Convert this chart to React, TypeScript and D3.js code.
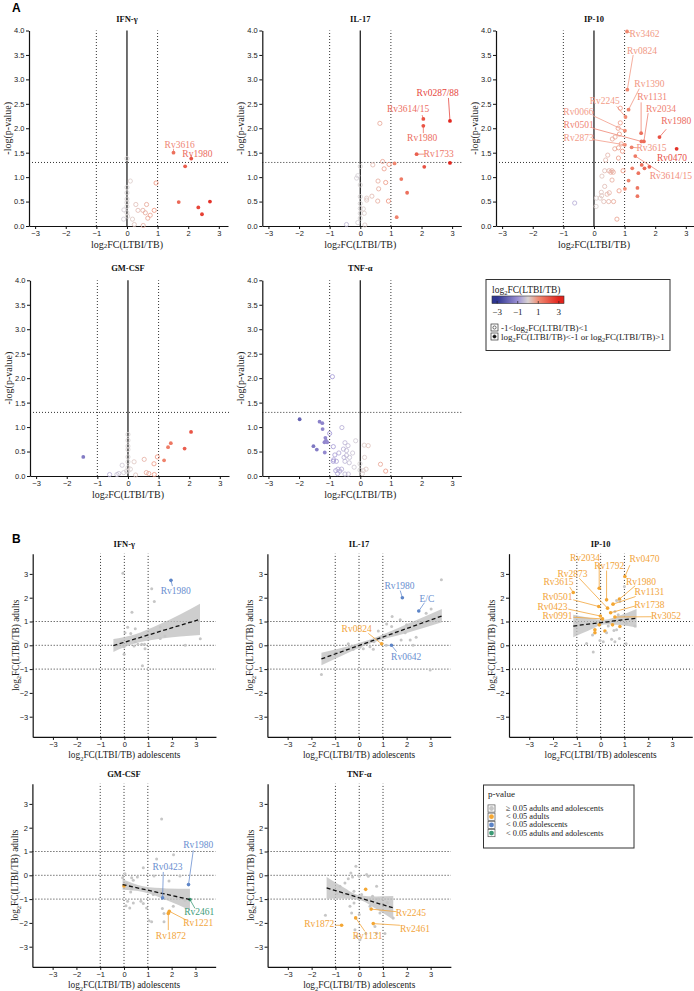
import React, { useEffect, useRef } from 'react';
import * as d3 from 'd3';

// ---------- A: volcano data, [log2FC(LTBI/TB), -log(p-value)] ----------
const ifnVolcano: [number, number][] = [
  [1.52, 1.50], [2.10, 1.38], [1.90, 1.22], [1.69, 0.49], [2.71, 0.50], [2.33, 0.38], [2.45, 0.24],
  [0.11, 0.92], [0, 0.79], [0, 0.68], [0, 0.55], [0, 0.48], [-0.1, 0.33], [0.29, 0.44], [0.36, 0.32],
  [0.52, 0.32], [0.6, 0.27], [0.64, 0.44], [0.89, 0.32], [0.76, 0.22], [0.68, 0.16], [0.95, 0.88],
  [-0.11, 0.14], [0.18, 0.14], [0.24, 0.03], [0.53, 0.01], [0, 0.27], [0, 1.38], [0, 0.4], [0.02, 0.2],
];
const il17Volcano: [number, number][] = [
  [2.93, 2.15], [2.06, 2.19], [2.06, 2.05], [1.84, 1.47], [2.93, 1.29], [1.12, 1.28], [2.09, 1.21],
  [1.34, 0.96], [1.53, 0.68], [1.19, 0.18],
  [0.64, 2.10], [0.73, 1.32], [0.41, 1.25], [0.78, 1.17], [0.94, 1.26], [0.58, 0.92], [0.83, 0.89],
  [0.60, 0.76], [0.38, 0.61], [0.21, 0.57], [0.21, 0.53], [0.57, 0.51], [0.92, 0.51], [0.10, 0.35],
  [0.13, 0.26], [-0.12, 0.98], [-0.08, 1.03], [0, 0.84], [0, 0.60], [0, 0.46], [0, 0.36], [0, 0.26],
  [0, 0.16], [-0.08, 0.07], [-0.45, 0.03], [0.15, 0.02], [0, 1.22],
];
const ip10Volcano: [number, number][] = [
  [1.08, 3.98], [1.09, 2.79], [1.13, 2.38], [1.03, 2.23], [1.01, 1.95], [1.54, 1.90], [1.63, 1.73],
  [1.55, 1.73], [2.14, 1.82], [1.01, 1.66], [1.23, 1.61], [2.70, 1.58], [1.35, 1.43], [1.81, 1.21],
  [1.56, 1.25], [1.65, 1.18], [1.25, 1.18], [1.45, 1.08], [1.13, 0.93], [1.42, 0.78], [1.01, 0.76],
  [1.42, 0.61],
  [0.86, 2.41], [0.86, 2.11], [0.79, 2.0], [0.83, 1.88], [0.69, 1.82], [0.6, 1.78], [0.89, 1.68],
  [0.68, 1.58], [0.8, 1.6], [0.38, 1.35], [0.45, 1.45], [0.93, 1.53], [0.8, 1.39], [0.35, 1.13],
  [0.49, 1.13], [0.59, 1.13], [0.55, 1.10], [0.63, 1.10], [0.95, 1.13], [0.26, 1.02], [0.59, 0.94],
  [0.35, 0.81], [0.50, 0.68], [0.43, 0.65], [0.24, 0.69], [0.25, 0.62], [0.2, 0.57], [0.08, 0.57],
  [0.32, 0.50], [0.48, 0.50], [0.64, 0.50], [0.82, 0.72], [0.07, 0.40], [-0.63, 0.47], [0.75, 0.14],
];
const gmcsfVolcano: [number, number][] = [
  [-1.46, 0.39], [2.06, 0.90], [1.40, 0.67], [1.31, 0.59], [1.85, 0.56], [1.18, 0.32],
  [0, 0.85], [0, 0.73], [0, 0.61], [0, 0.54], [0, 0.39], [0, 0.29], [0, 0.17], [0, 0.10], [0.2, 0.29],
  [-0.19, 0.22], [0.53, 0.34], [0.96, 0.39], [0.85, 0.25], [0.6, 0.07], [0.68, 0.05], [-0.6, 0.03],
  [-0.36, 0.03], [-0.14, 0.07], [0.08, 0.14], [0.25, 0.02], [0.86, 0.03], [-0.05, 0.1], [-0.3, 0.05],
];
const tnfVolcano: [number, number][] = [
  [-1.98, 1.16], [-1.33, 1.11], [-1.24, 1.08], [-1.23, 0.96], [-1.14, 0.78], [-1.12, 0.72],
  [-1.17, 0.69], [-1.08, 0.69], [-1.53, 0.61], [-1.42, 0.54], [-1.16, 0.48],
  [-0.91, 2.03], [-0.60, 0.99], [-1.0, 0.87], [-0.15, 0.72], [0.13, 0.63], [0.26, 0.62], [-0.5, 0.68],
  [-0.4, 0.62], [-0.88, 0.6], [-0.55, 0.55], [-0.45, 0.52], [-0.25, 0.47], [-0.7, 0.47], [-0.83, 0.43],
  [-0.45, 0.42], [-0.53, 0.38], [-0.35, 0.38], [0.14, 0.38], [-0.87, 0.33], [-0.78, 0.30], [-0.88, 0.30],
  [-0.5, 0.30], [-0.36, 0.27], [-0.01, 0.25], [0.66, 0.24], [-0.2, 0.18], [-0.73, 0.14], [-0.61, 0.14],
  [-0.8, 0.11], [-0.67, 0.10], [-0.01, 0.12], [0.1, 0.11], [0.19, 0.14], [-0.5, 0.04], [-0.39, 0.04],
  [0.07, 0.05], [0.83, 0.10], [-0.74, 0.05],
];

// labels: [name, point x, point y, text x, text y, leader start x, leader start y]
type Lab = [string, number, number, number, number, number | null, number | null];
const ifnVolcanoLabels: Lab[] = [
  ['Rv3616', 1.52, 1.50, 1.72, 1.66, 1.52, 1.58],
  ['Rv1980', 2.10, 1.38, 2.30, 1.48, 2.10, 1.45],
];
const il17VolcanoLabels: Lab[] = [
  ['Rv0287/88', 2.93, 2.15, 2.53, 2.72, 2.88, 2.62],
  ['Rv3614/15', 2.06, 2.19, 1.56, 2.39, 2.02, 2.27],
  ['Rv1980', 2.06, 2.05, 2.02, 1.80, 2.06, 1.90],
  ['Rv1733', 1.84, 1.47, 2.56, 1.47, 2.1, 1.47],
];
const ip10VolcanoLabels: Lab[] = [
  ['Rv3462', 1.08, 3.98, 1.65, 3.92, 1.20, 3.95],
  ['Rv0824', 1.09, 2.79, 1.57, 3.59, 1.28, 3.50],
  ['Rv1390', 1.13, 2.38, 1.81, 2.90, 1.48, 2.81],
  ['Rv1131', 1.54, 1.90, 1.90, 2.63, 1.54, 2.53],
  ['Rv2034', 1.63, 1.73, 2.19, 2.40, 1.77, 2.31],
  ['Rv1980', 2.14, 1.82, 2.69, 2.14, 2.36, 1.98],
  ['Rv2245', 1.03, 2.23, 0.35, 2.56, 0.74, 2.45],
  ['Rv0066', 1.01, 1.95, -0.51, 2.33, -0.04, 2.26],
  ['Rv0501', 1.55, 1.73, -0.50, 2.06, -0.04, 2.00],
  ['Rv2873', 1.01, 1.66, -0.50, 1.80, -0.04, 1.77],
  ['Rv3615', 1.23, 1.61, 1.88, 1.60, 1.44, 1.60],
  ['Rv0470', 2.70, 1.58, 2.55, 1.39, null, null],
  ['Rv3614/15', 1.35, 1.43, 2.51, 1.03, 2.16, 1.10],
];

// ---------- B: adults vs adolescents, [adolescents, adults, group] ----------
// group: 0 = ns, 1 = <0.05 adults, 2 = <0.05 adolescents, 3 = <0.05 both
const ifnScatter: [number, number, number][] = [
  [1.96, 2.73, 2],
  [-0.06, 3.03, 0], [1.15, 2.38, 0], [1.26, 1.84, 0], [0.32, 1.39, 0], [0.14, 0.76, 0], [0.46, 0.70, 0],
  [0.03, 0.53, 0], [0.27, 0.50, 0], [0.1, 0.11, 0], [-0.01, -0.06, 0], [-0.01, -0.38, 0], [0.41, -0.03, 0],
  [0.57, 0.04, 0], [0.73, 0.04, 0], [0.87, -0.14, 0], [0.76, -0.86, 0], [1.51, 0.77, 0], [1.51, 0.29, 0],
  [1.71, 0.39, 0], [2.56, 0, 0], [3.19, 0.28, 0], [-0.11, 0.15, 0], [0.85, 0.04, 0], [0.45, 0.15, 0],
  [0.49, 0.34, 0],
];
const il17Scatter: [number, number, number][] = [
  [1.82, 2.0, 2], [2.51, 1.44, 2], [1.36, 0.0, 2], [0.95, 0.06, 1],
  [3.46, 2.75, 0], [3.03, 1.53, 0], [2.82, 1.35, 0], [1.39, 1.21, 0], [1.73, 1.07, 0], [1.37, 0.79, 0],
  [2.0, 0.86, 0], [1.16, 0.9, 0], [0.81, 0.60, 0], [1.58, 0.5, 0], [1.94, 0.53, 0], [2.4, 0.34, 0],
  [1.77, 0.22, 0], [2.15, 0.22, 0], [1.14, 0, 0], [2.27, 0, 0], [2.99, -1.04, 0], [-1.58, -1.23, 0],
  [-0.45, 0.06, 0], [-0.31, -0.06, 0], [0.04, -0.08, 0], [0.18, -0.15, 0], [0.6, -0.17, 0], [0.32, 0.08, 0],
  [-0.24, -0.17, 0], [0.63, 0.15, 0], [0.46, -0.06, 0], [-0.66, -0.2, 0],
];
const ip10Scatter: [number, number, number][] = [
  [-0.06, 2.40, 1], [0.25, 1.91, 1], [1.02, 2.89, 1], [0.29, 1.56, 1], [-1.15, 2.22, 1], [0.79, 1.94, 1],
  [-0.08, 1.63, 1], [0.52, 1.73, 1], [-0.01, 1.23, 1], [0.42, 1.37, 1], [0.08, 1.11, 1], [0.6, 1.19, 1],
  [-0.24, 0.65, 1], [-0.24, 0.53, 1], [0.18, 0.6, 1], [0.5, 0.86, 1], [0.81, 0.79, 1], [-0.06, 0.86, 1],
  [1.0, 2.47, 0], [0.67, 1.88, 0], [0.81, 1.84, 0], [0.6, 1.42, 0], [0.74, 1.28, 0], [1.09, 0.93, 0],
  [1.44, 0.81, 0], [-0.34, 0.43, 0], [0.25, 0.53, 0], [0.56, 0.62, 0], [0.67, 0.65, 0], [0.79, 0.29, 0],
  [-0.03, 0.2, 0], [0.11, 0.15, 0], [0.46, 0.25, 0], [0.6, 0.15, 0], [1.07, 0.06, 0], [-0.59, 0.08, 0],
  [-0.31, -0.28, 0], [0.32, 0.81, 0],
];
const gmcsfScatter: [number, number, number][] = [
  [2.71, -0.39, 2], [1.62, -0.95, 2], [2.77, -1.02, 3], [1.9, -1.51, 1], [1.86, -1.6, 1], [0, -0.45, 1],
  [1.58, 2.37, 0], [2.08, 0.86, 0], [1.37, 0.68, 0], [0.81, 0.32, 0], [1.26, -0.03, 0], [2.35, -0.03, 0],
  [1.89, -0.24, 0], [0.04, 0.07, 0], [-0.06, -0.1, 0], [0.32, -0.1, 0], [0.39, -0.21, 0], [0.56, -0.07, 0],
  [0.11, -0.35, 0], [0.32, -0.56, 0], [0.28, -0.7, 0], [0.15, -1.09, 0], [0.39, -1.16, 0], [0.71, -1.09, 0],
  [0.08, -1.28, 0], [0.24, -1.37, 0], [0.81, -1.19, 0], [0.95, -1.37, 0], [1.05, -1.91, 0], [1.16, -1.95, 0],
  [1.68, -1.95, 0], [1.68, -1.6, 0], [1.61, -1.4, 0], [1.23, -0.81, 0], [2.38, -0.98, 0], [2.07, -1.3, 0],
  [2.56, -1.05, 0],
];
const tnfScatter: [number, number, number][] = [
  [0.5, -1.42, 1], [0.59, -2.03, 1], [-0.74, -2.10, 1], [-0.15, -1.79, 1], [0.27, -0.59, 1],
  [-0.14, 0.38, 0], [-0.35, 0.1, 0], [-0.28, -0.07, 0], [0, -0.04, 0], [0.31, 0.03, 0], [0.38, -0.04, 0],
  [-0.46, -0.15, 0], [-0.6, -0.32, 0], [-0.81, -0.46, 0], [-0.93, -0.77, 0], [-0.67, -0.81, 0],
  [-0.46, -0.77, 0], [-0.22, -0.67, 0], [0.1, -0.81, 0], [0.17, -1.02, 0], [0.56, -0.88, 0], [0.73, -0.46, 0],
  [0.8, -1.0, 0], [-0.22, -1.16, 0], [-0.39, -1.3, 0], [-0.32, -1.58, 0], [0, -1.65, 0], [0.45, -1.3, 0],
  [0.87, -1.58, 0], [1.18, -1.14, 0], [1.43, -1.79, 0], [-1.42, -1.68, 0], [-0.18, -2.29, 0],
  [-0.11, -2.57, 0], [0.03, -2.71, 0], [1.08, -2.45, 0], [0.28, -2.45, 0], [0.66, -2.15, 0], [0.73, -2.43, 0],
];

const ifnScatterLabels: Lab[] = [['Rv1980', 1.96, 2.73, 2.16, 2.28, 2.02, 2.49]];
const il17ScatterLabels: Lab[] = [
  ['Rv1980', 1.82, 2.0, 1.70, 2.51, 1.73, 2.30],
  ['E/C', 2.51, 1.44, 2.85, 1.95, 2.75, 1.79],
  ['Rv0642', 1.36, 0.0, 1.98, -0.48, 1.58, -0.27],
  ['Rv0824', 0.95, 0.06, -0.10, 0.69, 0.39, 0.50],
];
const ip10ScatterLabels: Lab[] = [
  ['Rv2034', -0.06, 2.40, -0.66, 3.67, -0.06, 3.46],
  ['Rv1792', 0.25, 1.91, 0.36, 3.32, 0.25, 3.14],
  ['Rv0470', 1.02, 2.89, 1.84, 3.63, 1.23, 3.37],
  ['Rv2873', 0.29, 1.56, -1.18, 3.0, -0.9, 2.82],
  ['Rv3615', -1.15, 2.22, -1.77, 2.64, -1.3, 2.45],
  ['Rv1980', 0.79, 1.94, 1.70, 2.68, 1.45, 2.50],
  ['Rv0501', -0.08, 1.63, -1.81, 2.02, -1.15, 1.91],
  ['Rv1131', 0.52, 1.73, 2.05, 2.22, 1.47, 2.05],
  ['Rv0423', -0.01, 1.23, -2.02, 1.63, -1.36, 1.52],
  ['Rv1738', 0.42, 1.37, 2.05, 1.68, 1.45, 1.65],
  ['Rv0991', 0.08, 1.11, -1.81, 1.25, -1.15, 1.18],
  ['Rv3052', 0.6, 1.19, 2.75, 1.23, 2.14, 1.20],
];
const gmcsfScatterLabels: Lab[] = [
  ['Rv1980', 2.71, -0.39, 3.12, 1.27, 2.91, 1.05],
  ['Rv0423', 1.62, -0.95, 1.83, 0.35, 1.65, 0.14],
  ['Rv2461', 2.77, -1.02, 3.16, -1.56, 2.98, -1.39],
  ['Rv1221', 1.9, -1.51, 3.12, -2.0, 2.63, -1.89],
  ['Rv1872', 1.86, -1.6, 1.97, -2.54, 1.86, -2.3],
];
const tnfScatterLabels: Lab[] = [
  ['Rv2245', 0.5, -1.42, 2.17, -1.60, 1.57, -1.53],
  ['Rv2461', 0.59, -2.03, 2.34, -2.24, 1.71, -2.1],
  ['Rv1872', -0.74, -2.10, -1.68, -2.03, -1.02, -2.10],
  ['Rv1131', -0.15, -1.79, 0.35, -2.57, 0.24, -2.36],
];

// regression fits: line ends and confidence band
const ifnFitX = [-0.46, 3.18], ifnFitY = [-0.01, 1.09];
const ifnBandX = [-0.46, 0.4, 1.5, 3.18], ifnBandLo = [-0.28, 0.06, 0.27, 0.43], ifnBandHi = [0.26, 0.44, 0.89, 1.75];
const il17FitX = [-1.58, 3.48], il17FitY = [-0.57, 1.23];
const il17BandX = [-1.58, -0.5, 0.5, 2, 3.48], il17BandLo = [-0.84, -0.33, 0.09, 0.52, 0.97], il17BandHi = [-0.31, -0.05, 0.25, 0.88, 1.53];
const ip10FitX = [-1.15, 1.51], ip10FitY = [0.81, 1.14];
const ip10BandX = [-1.15, -0.5, 0.15, 0.8, 1.51], ip10BandLo = [0.34, 0.62, 0.87, 0.85, 0.75], ip10BandHi = [1.28, 1.16, 1.07, 1.25, 1.53];
const gmcsfFitX = [-0.06, 2.77], gmcsfFitY = [-0.39, -1.02];
const gmcsfBandX = [-0.06, 0.8, 1.8, 2.77], gmcsfBandLo = [-0.61, -0.70, -1.05, -1.47], gmcsfBandHi = [-0.17, -0.46, -0.55, -0.57];
const tnfFitX = [-1.37, 1.43], tnfFitY = [-0.53, -1.37];
const tnfBandX = [-1.37, -0.7, 0, 0.7, 1.43], tnfBandLo = [-0.99, -0.98, -1.04, -1.41, -1.87], tnfBandHi = [-0.07, -0.48, -0.84, -0.89, -0.87];

const fcTicks = [-3, -2, -1, 0, 1, 2, 3];
const pTicks = [0, 0.5, 1, 1.5, 2, 2.5, 3, 3.5, 4];
const colorStops = [-3, -1, 0, 1, 3];
const colorRange = ['#2e3590', '#9c90d4', '#d8d3d3', '#f08c74', '#e2231c'];
const legendTicks = [-3, -1, 1, 3];
const groupNames = ['≥ 0.05 adults and adolescents', '< 0.05 adults', '< 0.05 adolescents', '< 0.05 adults and adolescents'];
const groupColors = ['#c6c6c6', '#f4a733', '#5b83c6', '#3b9a74'];
const groupText = ['#999', '#f2a43a', '#6a8fd0', '#3e9c78'];

const SERIF = '"Liberation Serif", "DejaVu Serif", serif';
const SANS = '"Liberation Sans", Arial, sans-serif';

const fcColor = d3.scaleLinear<string>().domain(colorStops).range(colorRange).clamp(true);
const intFmt = d3.format('d');

function styleAxis(g: any) {
  g.select('.domain').attr('stroke', '#111').attr('stroke-width', 1.2);
  g.selectAll('.tick line').attr('stroke', '#111').attr('stroke-width', 1);
  g.selectAll('.tick text').attr('font-family', SANS).attr('font-size', 7.5).attr('fill', '#222');
}

function dotted(g: any, x1: number, y1: number, x2: number, y2: number) {
  g.append('line').attr('x1', x1).attr('y1', y1).attr('x2', x2).attr('y2', y2)
    .attr('stroke', '#333').attr('stroke-width', 1).attr('stroke-dasharray', '1,2');
}

function log2Label(g: any, x: number, y: number, suffix: string, size: number, anchor: string, rotate = false) {
  const t = g.append('text').attr('font-family', SERIF).attr('font-size', size).attr('fill', '#222')
    .attr('text-anchor', anchor).attr('dominant-baseline', 'central');
  if (rotate) t.attr('transform', `translate(${x},${y}) rotate(-90)`);
  else t.attr('x', x).attr('y', y);
  t.append('tspan').text('log');
  t.append('tspan').attr('font-size', size * 0.7).attr('dy', size * 0.25).text('2');
  t.append('tspan').attr('dy', -size * 0.25).text('FC(LTBI/TB)' + suffix);
}

function drawLabels(g: any, x: any, y: any, labels: Lab[], colorOf: (l: Lab) => string) {
  labels.forEach((l) => {
    const c = colorOf(l);
    if (l[5] !== null) {
      g.append('line').attr('x1', x(l[5])).attr('y1', y(l[6])).attr('x2', x(l[1])).attr('y2', y(l[2]))
        .attr('stroke', c).attr('stroke-width', 0.8);
    }
    g.append('text').attr('x', x(l[3])).attr('y', y(l[4])).attr('text-anchor', 'middle')
      .attr('dominant-baseline', 'central').attr('font-family', SERIF).attr('font-size', 9.5)
      .attr('fill', c).text(l[0]);
  });
}

function volcano(svg: any, title: string, left: number, y0: number, y4: number, pts: [number, number][], labels: Lab[]) {
  const x = d3.scaleLinear().domain([-3.2, 3.3]).range([left, left + 199]);
  const y = d3.scaleLinear().domain([0, 4]).range([y0, y4]);
  const g = svg.append('g');
  dotted(g, x(-3.2), y(1.3), x(3.3), y(1.3));
  [-1, 1].forEach((v) => dotted(g, x(v), y(0), x(v), y(4)));
  g.append('line').attr('x1', x(0)).attr('x2', x(0)).attr('y1', y(0)).attr('y2', y(4))
    .attr('stroke', '#111').attr('stroke-width', 1.2);
  const ax = g.append('g').attr('transform', `translate(0,${y0})`)
    .call(d3.axisBottom(x).tickValues(fcTicks).tickFormat(intFmt).tickSize(3).tickPadding(1.5).tickSizeOuter(0));
  styleAxis(ax);
  const ay = g.append('g').attr('transform', `translate(${left},0)`)
    .call(d3.axisLeft(y).tickValues(pTicks).tickFormat(d3.format('.1f')).tickSize(3).tickPadding(1.5).tickSizeOuter(0));
  styleAxis(ay);

  drawLabels(g, x, y, labels, (l) => d3.interpolateRgb(fcColor(l[1]), '#fff')(0.15));

  g.selectAll('circle.p').data(pts).enter().append('circle')
    .attr('cx', (d: any) => x(d[0])).attr('cy', (d: any) => y(d[1]))
    .attr('r', (d: any) => (Math.abs(d[0]) > 1 ? 1.9 : 2.1))
    .attr('fill', (d: any) => (Math.abs(d[0]) > 1 ? fcColor(d[0]) : 'none'))
    .attr('stroke', (d: any) => fcColor(d[0]))
    .attr('stroke-width', (d: any) => (Math.abs(d[0]) > 1 ? 0 : 0.8));

  g.append('text').attr('x', x(0)).attr('y', y4 - 12).attr('text-anchor', 'middle')
    .attr('dominant-baseline', 'central').attr('font-family', SERIF).attr('font-weight', 'bold')
    .attr('font-size', 8.5).attr('fill', '#111').text(title);
  g.append('text').attr('transform', `translate(${left - 22},${(y0 + y4) / 2}) rotate(-90)`)
    .attr('text-anchor', 'middle').attr('dominant-baseline', 'central').attr('font-family', SERIF)
    .attr('font-size', 10).attr('fill', '#222').text('-log(p-value)');
  log2Label(g, x(0), y0 + 17.5, '', 10, 'middle');
}

function scatter(svg: any, title: string, left: number, yZero: number, pts: [number, number, number][], labels: Lab[],
  fitX: number[], fitY: number[], bandX: number[], bandLo: number[], bandHi: number[]) {
  const u = 23.8;
  const x = d3.scaleLinear().domain([-3.85, 3.85]).range([left, left + 7.7 * u]);
  const y = d3.scaleLinear().domain([-3.85, 3.85]).range([yZero + 3.85 * u, yZero - 3.85 * u]);
  const g = svg.append('g');
  [-1, 0, 1].forEach((v) => {
    dotted(g, x(v), y(-3.85), x(v), y(3.85));
    dotted(g, x(-3.85), y(v), x(3.85), y(v));
  });
  const band = bandX.map((v, i) => ({ x: v, lo: bandLo[i], hi: bandHi[i] }));
  g.append('path').datum(band)
    .attr('d', d3.area<any>().x((d) => x(d.x)).y0((d) => y(d.lo)).y1((d) => y(d.hi)).curve(d3.curveMonotoneX))
    .attr('fill', '#bdbdbd').attr('opacity', 0.75);

  g.selectAll('circle.p').data(pts).enter().append('circle')
    .attr('cx', (d: any) => x(d[0])).attr('cy', (d: any) => y(d[1]))
    .attr('r', (d: any) => (d[2] === 0 ? 1.5 : 1.8))
    .attr('fill', (d: any) => groupColors[d[2]]);

  g.append('line').attr('x1', x(fitX[0])).attr('y1', y(fitY[0])).attr('x2', x(fitX[1])).attr('y2', y(fitY[1]))
    .attr('stroke', '#111').attr('stroke-width', 1.3).attr('stroke-dasharray', '4,2.5');

  const groupOf = (l: Lab) => {
    const p = pts.find((d) => d[0] === l[1] && d[1] === l[2]);
    return p ? p[2] : 1;
  };
  drawLabels(g, x, y, labels, (l) => groupText[groupOf(l)]);

  const ax = g.append('g').attr('transform', `translate(0,${y(-3.85)})`)
    .call(d3.axisBottom(x).tickValues(fcTicks).tickFormat(intFmt).tickSize(3).tickPadding(1.5).tickSizeOuter(0));
  styleAxis(ax);
  const ay = g.append('g').attr('transform', `translate(${left},0)`)
    .call(d3.axisLeft(y).tickValues(fcTicks).tickFormat(intFmt).tickSize(3).tickPadding(1.5).tickSizeOuter(0));
  styleAxis(ay);

  g.append('text').attr('x', x(0)).attr('y', y(3.85) - 10).attr('text-anchor', 'middle')
    .attr('dominant-baseline', 'central').attr('font-family', SERIF).attr('font-weight', 'bold')
    .attr('font-size', 8.5).attr('fill', '#111').text(title);
  log2Label(g, x(0), y(-3.85) + 18.5, ' adolescents', 9.3, 'middle');
  log2Label(g, left - 17, yZero, ' adults', 9.3, 'middle', true);
}

export default function App() {
  const ref = useRef<SVGSVGElement>(null);

  useEffect(() => {
    const svg = d3.select(ref.current);
    svg.selectAll('*').remove();
    svg.append('rect').attr('width', 694).attr('height', 991).attr('fill', '#fff');

    // panel letters
    svg.append('text').attr('x', 12).attr('y', 12).attr('font-family', SANS).attr('font-weight', 'bold')
      .attr('font-size', 12).text('A');
    svg.append('text').attr('x', 12).attr('y', 543).attr('font-family', SANS).attr('font-weight', 'bold')
      .attr('font-size', 12).text('B');

    // A
    volcano(svg, 'IFN-γ', 29, 226, 30.5, ifnVolcano, ifnVolcanoLabels);
    volcano(svg, 'IL-17', 262.3, 226, 30.5, il17Volcano, il17VolcanoLabels);
    volcano(svg, 'IP-10', 496, 226, 30.5, ip10Volcano, ip10VolcanoLabels);
    volcano(svg, 'GM-CSF', 30, 476, 280.3, gmcsfVolcano, []);
    volcano(svg, 'TNF-α', 262.3, 476, 280.3, tnfVolcano, []);

    // A legend
    const la = svg.append('g');
    la.append('rect').attr('x', 486).attr('y', 279.5).attr('width', 184).attr('height', 71)
      .attr('fill', '#fff').attr('stroke', '#333').attr('stroke-width', 1);
    log2Label(la, 492, 289.5, '', 9.5, 'start');
    const defs = svg.append('defs');
    const grad = defs.append('linearGradient').attr('id', 'fcGrad').attr('x1', '0%').attr('x2', '100%');
    const cb = d3.scaleLinear().domain([-3.5, 3.5]).range([492, 564]);
    d3.range(-3.5, 3.51, 0.25).forEach((v) => {
      grad.append('stop').attr('offset', `${((v + 3.5) / 7) * 100}%`).attr('stop-color', fcColor(v));
    });
    la.append('rect').attr('x', 492).attr('y', 296).attr('width', 72).attr('height', 7.5)
      .attr('fill', 'url(#fcGrad)').attr('stroke', '#333').attr('stroke-width', 0.6);
    legendTicks.forEach((v) => {
      la.append('line').attr('x1', cb(v)).attr('x2', cb(v)).attr('y1', 301).attr('y2', 303.5)
        .attr('stroke', '#222').attr('stroke-width', 0.7);
      la.append('text').attr('x', cb(v)).attr('y', 312).attr('text-anchor', 'middle')
        .attr('dominant-baseline', 'central').attr('font-family', SERIF).attr('font-size', 9)
        .attr('fill', '#222').text(intFmt(v));
    });
    [[327.5, false], [336.5, true]].forEach(([cy, filled]: any) => {
      la.append('rect').attr('x', 491).attr('y', cy - 3.5).attr('width', 7).attr('height', 7)
        .attr('fill', '#fff').attr('stroke', '#333').attr('stroke-width', 0.7);
      la.append('circle').attr('cx', 494.5).attr('cy', cy).attr('r', 1.6)
        .attr('fill', filled ? '#111' : 'none').attr('stroke', '#111').attr('stroke-width', 0.6);
      const t = la.append('text').attr('x', 501).attr('y', cy).attr('dominant-baseline', 'central')
        .attr('font-family', SERIF).attr('font-size', 9).attr('fill', '#222');
      if (!filled) {
        t.append('tspan').text('-1<log');
        t.append('tspan').attr('font-size', 6.3).attr('dy', 2.2).text('2');
        t.append('tspan').attr('dy', -2.2).text('FC(LTBI/TB)<1');
      } else {
        t.append('tspan').text('log');
        t.append('tspan').attr('font-size', 6.3).attr('dy', 2.2).text('2');
        t.append('tspan').attr('dy', -2.2).text('FC(LTBI/TB)<-1 or log');
        t.append('tspan').attr('font-size', 6.3).attr('dy', 2.2).text('2');
        t.append('tspan').attr('dy', -2.2).text('FC(LTBI/TB)>1');
      }
    });

    // B
    scatter(svg, 'IFN-γ', 32.7, 645.3, ifnScatter, ifnScatterLabels, ifnFitX, ifnFitY, ifnBandX, ifnBandLo, ifnBandHi);
    scatter(svg, 'IL-17', 267.4, 645.3, il17Scatter, il17ScatterLabels, il17FitX, il17FitY, il17BandX, il17BandLo, il17BandHi);
    scatter(svg, 'IP-10', 509, 645.3, ip10Scatter, ip10ScatterLabels, ip10FitX, ip10FitY, ip10BandX, ip10BandLo, ip10BandHi);
    scatter(svg, 'GM-CSF', 32.4, 875.3, gmcsfScatter, gmcsfScatterLabels, gmcsfFitX, gmcsfFitY, gmcsfBandX, gmcsfBandLo, gmcsfBandHi);
    scatter(svg, 'TNF-α', 267.6, 875.3, tnfScatter, tnfScatterLabels, tnfFitX, tnfFitY, tnfBandX, tnfBandLo, tnfBandHi);

    // B legend
    const lb = svg.append('g');
    lb.append('rect').attr('x', 483.5).attr('y', 785).attr('width', 150.5).attr('height', 63)
      .attr('fill', '#fff').attr('stroke', '#333').attr('stroke-width', 1);
    lb.append('text').attr('x', 488).attr('y', 794).attr('dominant-baseline', 'central')
      .attr('font-family', SERIF).attr('font-size', 9).attr('fill', '#222').text('p-value');
    groupNames.forEach((name, i) => {
      const cy = 808.5 + i * 8.2;
      lb.append('rect').attr('x', 488).attr('y', cy - 3.6).attr('width', 7).attr('height', 7.2)
        .attr('fill', '#fff').attr('stroke', '#555').attr('stroke-width', 0.7);
      lb.append('circle').attr('cx', 491.5).attr('cy', cy).attr('r', 2.4).attr('fill', groupColors[i]);
      lb.append('text').attr('x', 506).attr('y', cy).attr('dominant-baseline', 'central')
        .attr('font-family', SERIF).attr('font-size', 8.3).attr('fill', '#222').text(name);
    });
  }, []);

  return (
    <svg ref={ref} width={694} height={991} style={{ position: 'absolute', left: 0, top: 0, display: 'block' }} />
  );
}
